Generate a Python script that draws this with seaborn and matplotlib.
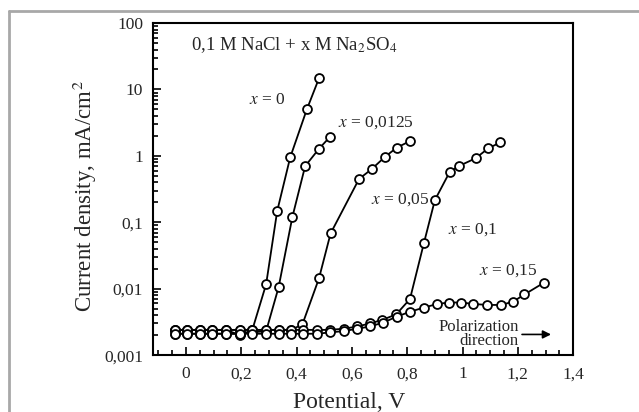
import matplotlib
matplotlib.use("Agg")
import matplotlib.pyplot as plt
import seaborn as sns
import numpy as np
import pandas as pd
from matplotlib.ticker import FixedLocator, FixedFormatter, LogLocator, NullFormatter, MultipleLocator
from matplotlib.lines import Line2D

# ---- data ----
v_x0 = [-0.04, 0.005, 0.05, 0.095, 0.145, 0.195, 0.24, 0.29, 0.33, 0.377, 0.437, 0.481]
i_x0 = [0.0024, 0.0024, 0.0024, 0.0024, 0.0024, 0.0020, 0.0024, 0.0117, 0.148, 0.95, 5.0, 14.7]

v_x00125 = [-0.04, 0.005, 0.05, 0.095, 0.145, 0.195, 0.24, 0.29, 0.335, 0.385, 0.431, 0.481, 0.521]
i_x00125 = [0.0021, 0.0021, 0.0021, 0.0021, 0.0021, 0.0021, 0.0022, 0.0023, 0.0105, 0.121, 0.70, 1.28, 1.94]

v_x005 = [-0.04, 0.005, 0.05, 0.095, 0.145, 0.195, 0.24, 0.29, 0.335, 0.38, 0.421, 0.481, 0.523,
          0.626, 0.671, 0.72, 0.762, 0.81]
i_x005 = [0.0024, 0.0024, 0.0024, 0.0024, 0.0024, 0.0024, 0.0024, 0.0024, 0.0024, 0.0024, 0.0029,
          0.0143, 0.068, 0.45, 0.63, 0.97, 1.33, 1.67]

v_x01 = [-0.04, 0.005, 0.05, 0.095, 0.145, 0.195, 0.24, 0.29, 0.335, 0.38, 0.425, 0.475, 0.52,
         0.57, 0.62, 0.665, 0.71, 0.76, 0.81, 0.86, 0.90, 0.954, 0.989, 1.047, 1.093, 1.137]
i_x01 = [0.0024, 0.0024, 0.0024, 0.0024, 0.0024, 0.0024, 0.0024, 0.0024, 0.0024, 0.0024, 0.0024,
         0.0024, 0.0024, 0.0025, 0.0027, 0.0030, 0.0034, 0.0041, 0.0070, 0.048, 0.216, 0.577,
         0.71, 0.92, 1.30, 1.60]

v_x015 = [-0.04, 0.005, 0.05, 0.095, 0.145, 0.195, 0.24, 0.29, 0.335, 0.38, 0.425, 0.475, 0.52,
          0.57, 0.62, 0.665, 0.714, 0.762, 0.81, 0.86, 0.909, 0.951, 0.996, 1.039, 1.089, 1.14,
          1.183, 1.224, 1.294]
i_x015 = [0.0021, 0.0021, 0.0021, 0.0021, 0.0021, 0.0021, 0.0021, 0.0021, 0.0021, 0.0021, 0.0021,
          0.0021, 0.0022, 0.0023, 0.0025, 0.0027, 0.0031, 0.0038, 0.0045, 0.0052, 0.0059, 0.0062,
          0.0062, 0.0059, 0.0057, 0.0057, 0.0064, 0.0082, 0.0123]

series = [("x=0", v_x0, i_x0), ("x=0.0125", v_x00125, i_x00125), ("x=0.05", v_x005, i_x005),
          ("x=0.1", v_x01, i_x01), ("x=0.15", v_x015, i_x015)]

y_ticks = [0.001, 0.01, 0.1, 1, 10, 100]
y_tick_labels = ["0,001", "0,01", "0,1", "1", "10", "100"]
x_ticks = [0, 0.2, 0.4, 0.6, 0.8, 1.0, 1.2, 1.4]
x_tick_labels = ["0", "0,2", "0,4", "0,6", "0,8", "1", "1,2", "1,4"]

# ---- style ----
sns.set_style("ticks")
plt.rcParams['font.family'] = ['Liberation Serif', 'DejaVu Serif']
plt.rcParams['mathtext.fontset'] = 'stix'

fig = plt.figure(figsize=(6.39, 4.12), dpi=100)
ax = fig.add_axes([0.239, 0.138, 0.658, 0.806])

for name, v, i in series:
    df = pd.DataFrame({"V": v, "I": i})
    sns.lineplot(data=df, x="V", y="I", ax=ax, color="black", lw=1.3, sort=False,
                 marker="o", markersize=6.4, markerfacecolor="white",
                 markeredgecolor="black", markeredgewidth=1.3, estimator=None)

ax.set_yscale("log")
ax.set_xlim(-0.12, 1.4)
ax.set_ylim(0.001, 100)

ax.yaxis.set_major_locator(FixedLocator(y_ticks))
ax.yaxis.set_major_formatter(FixedFormatter(y_tick_labels))
ax.yaxis.set_minor_locator(LogLocator(base=10, subs=np.arange(2, 10), numticks=20))
ax.yaxis.set_minor_formatter(NullFormatter())
ax.xaxis.set_major_locator(FixedLocator(x_ticks))
ax.xaxis.set_major_formatter(FixedFormatter(x_tick_labels))
ax.xaxis.set_minor_locator(MultipleLocator(0.05))

ax.tick_params(which="both", direction="in", color="black", width=1.2)
ax.tick_params(which="major", length=6, labelsize=12.5, pad=7)
ax.tick_params(which="minor", length=3.5)
ax.tick_params(axis="x", which="major", pad=8)
ax.tick_params(top=False, right=False, which="both")

for s in ax.spines.values():
    s.set_visible(True)
    s.set_linewidth(1.5)
    s.set_color("black")

ax.set_xlabel("Potential, V", fontsize=17)
ax.set_ylabel("Current density, mA/cm$^2$", fontsize=16.5)
ax.xaxis.set_label_coords(0.467, -0.112)
ax.yaxis.set_label_coords(-0.128, 0.48)

ax.text(0.018, 46.7, "0,1 M NaCl + x M Na$_2$SO$_4$", fontsize=13.5, ha="left", va="center")
ax.text(0.227, 6.9, "$x$ = 0", fontsize=12.5, ha="left", va="center")
ax.text(0.549, 3.12, "$x$ = 0,0125", fontsize=12.5, ha="left", va="center")
ax.text(0.668, 0.223, "$x$ = 0,05", fontsize=12.5, ha="left", va="center")
ax.text(0.946, 0.0764, "$x$ = 0,1", fontsize=12.5, ha="left", va="center")
ax.text(1.058, 0.019, "$x$ = 0,15", fontsize=12.5, ha="left", va="center")
ax.text(1.202, 0.0021, "Polarization\ndirection", fontsize=12, ha="right", va="center",
        multialignment="right", linespacing=0.85)
ax.annotate("", xy=(1.33, 0.00205), xytext=(1.205, 0.00205),
            arrowprops=dict(arrowstyle="-|>", color="black", lw=1.2, mutation_scale=12))

# outer grey frame
fig.add_artist(Line2D([0.014, 1.0], [0.973, 0.973], transform=fig.transFigure, color="#a8a8a8", lw=2))
fig.add_artist(Line2D([0.014, 0.014], [0.0, 0.973], transform=fig.transFigure, color="#a8a8a8", lw=2))

fig.savefig("out.png", dpi=100)
